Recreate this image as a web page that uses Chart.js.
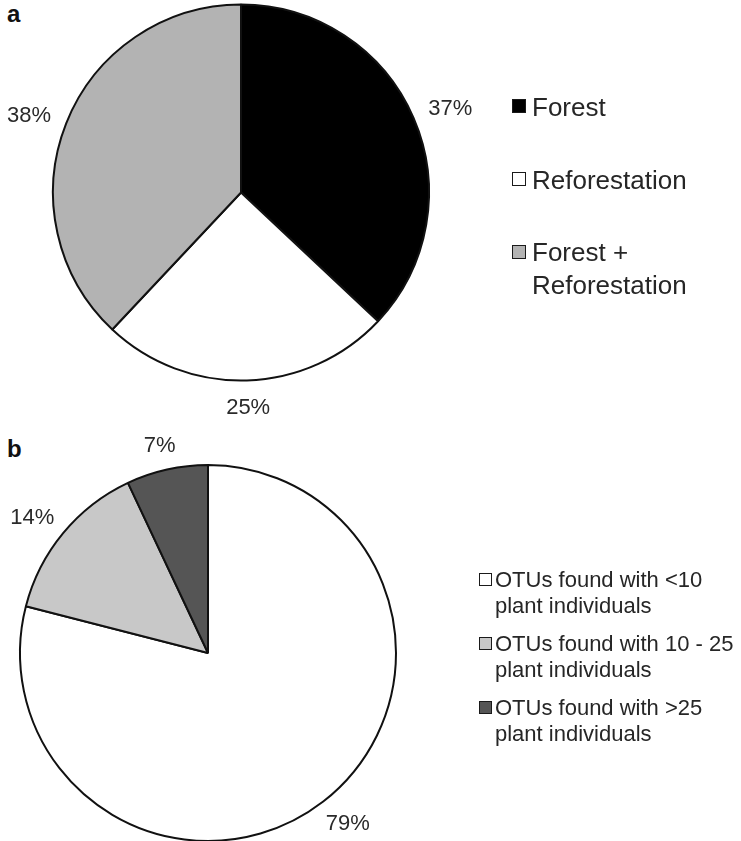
<!DOCTYPE html>
<html>
<head>
<meta charset="utf-8">
<script src="https://cdn.jsdelivr.net/npm/chart.js@4.4.0/dist/chart.umd.min.js"></script>
<style>
  html, body { margin: 0; padding: 0; background: #fff; overflow: hidden; width: 741px; height: 841px; }
  body { position: relative; font-family: "Liberation Sans", Arial, sans-serif; color: #262626; }
  canvas { position: absolute; left: 0; }
  .panel { position: absolute; left: 7px; font-weight: bold; font-size: 24px; line-height: 24px; color: #111; }
  .legend-item { position: absolute; white-space: pre; }
  .legend-box { position: absolute; box-sizing: border-box; border: 1.5px solid #1a1a1a; }
</style>
</head>
<body>
<div class="panel" style="top:2px">a</div>
<div class="panel" style="top:437px">b</div>
<canvas id="pieA" width="741" height="420" style="top:0"></canvas>
<canvas id="pieB" width="741" height="460" style="top:400px"></canvas>
<div id="legendA"></div>
<div id="legendB"></div>
<script>
// Panel a: share of OTUs by land use
const landUseLabels = ['Forest', 'Reforestation', 'Forest +\nReforestation'];
const landUseValues = [37, 25, 38];
const landUseColors = ['#000000', '#ffffff', '#b3b3b3'];

// Panel b: OTUs by number of plant individuals they were found with
const plantCountLabels = [
  'OTUs found with <10\nplant individuals',
  'OTUs found with 10 - 25\nplant individuals',
  'OTUs found with >25\nplant individuals'
];
const plantCountValues = [79, 14, 7];
const plantCountColors = ['#ffffff', '#c8c8c8', '#555555'];

const FONT = '"Liberation Sans", Arial, sans-serif';

// Percentage labels placed just outside each slice
const outsideLabels = {
  id: 'outsideLabels',
  afterDatasetsDraw(chart) {
    const ctx = chart.ctx;
    const ds = chart.data.datasets[0];
    const total = ds.data.reduce((a, b) => a + b, 0);
    const meta = chart.getDatasetMeta(0);
    ctx.save();
    ctx.font = '22px ' + FONT;
    ctx.fillStyle = '#2a2a2a';
    ctx.textAlign = 'center';
    ctx.textBaseline = 'alphabetic';
    meta.data.forEach((arc, i) => {
      const p = arc.getProps(['x', 'y', 'startAngle', 'endAngle', 'outerRadius'], true);
      const mid = (p.startAngle + p.endAngle) / 2;
      const c = Math.cos(mid), s = Math.sin(mid);
      const text = Math.round(ds.data[i] / total * 100) + '%';
      const hw = ctx.measureText(text).width / 2, hh = 8;
      const r = p.outerRadius + 18;
      const cx = p.x + r * c + hw * c;
      const cy = p.y + r * s + hh * s;
      ctx.fillText(text, cx, cy + 7.9);
    });
    ctx.restore();
  }
};

function makePie(id, labels, values, colors, padding) {
  return new Chart(document.getElementById(id), {
    type: 'pie',
    data: {
      labels: labels,
      datasets: [{
        data: values,
        backgroundColor: colors,
        borderColor: '#111111',
        borderWidth: 2
      }]
    },
    options: {
      responsive: false,
      animation: false,
      devicePixelRatio: 1,
      events: [],
      layout: { padding: padding },
      plugins: {
        legend: { display: false },
        tooltip: { enabled: false }
      }
    },
    plugins: [outsideLabels]
  });
}

makePie('pieA', landUseLabels, landUseValues, landUseColors,
  { left: 52, top: 3.5, right: 311, bottom: 38.5 });
makePie('pieB', plantCountLabels, plantCountValues, plantCountColors,
  { left: 19, top: 64, right: 344, bottom: 18 });

// HTML legends built from the same labels and colours
function buildLegend(containerId, labels, colors, opts) {
  const box = document.getElementById(containerId);
  labels.forEach((label, i) => {
    const top = opts.top + i * opts.step;
    const sq = document.createElement('div');
    sq.className = 'legend-box';
    sq.style.left = opts.boxX + 'px';
    sq.style.top = (top + opts.baseline - opts.boxRaise) + 'px';
    sq.style.width = opts.boxSize + 'px';
    sq.style.height = opts.boxSize + 'px';
    sq.style.background = colors[i];
    box.appendChild(sq);
    const t = document.createElement('div');
    t.className = 'legend-item';
    t.style.left = opts.textX + 'px';
    t.style.top = top + 'px';
    t.style.fontSize = opts.fontSize + 'px';
    t.style.lineHeight = opts.lineHeight + 'px';
    t.textContent = label;
    box.appendChild(t);
  });
}

buildLegend('legendA', landUseLabels, landUseColors,
  { top: 91.2, step: 72.6, baseline: 25.5, boxRaise: 17.4, boxX: 512, boxSize: 14,
    textX: 532, fontSize: 26, lineHeight: 33 });
buildLegend('legendB', plantCountLabels, plantCountColors,
  { top: 567.1, step: 63.7, baseline: 20.6, boxRaise: 14.4, boxX: 479, boxSize: 13,
    textX: 495, fontSize: 22, lineHeight: 26 });
</script>
</body>
</html>
